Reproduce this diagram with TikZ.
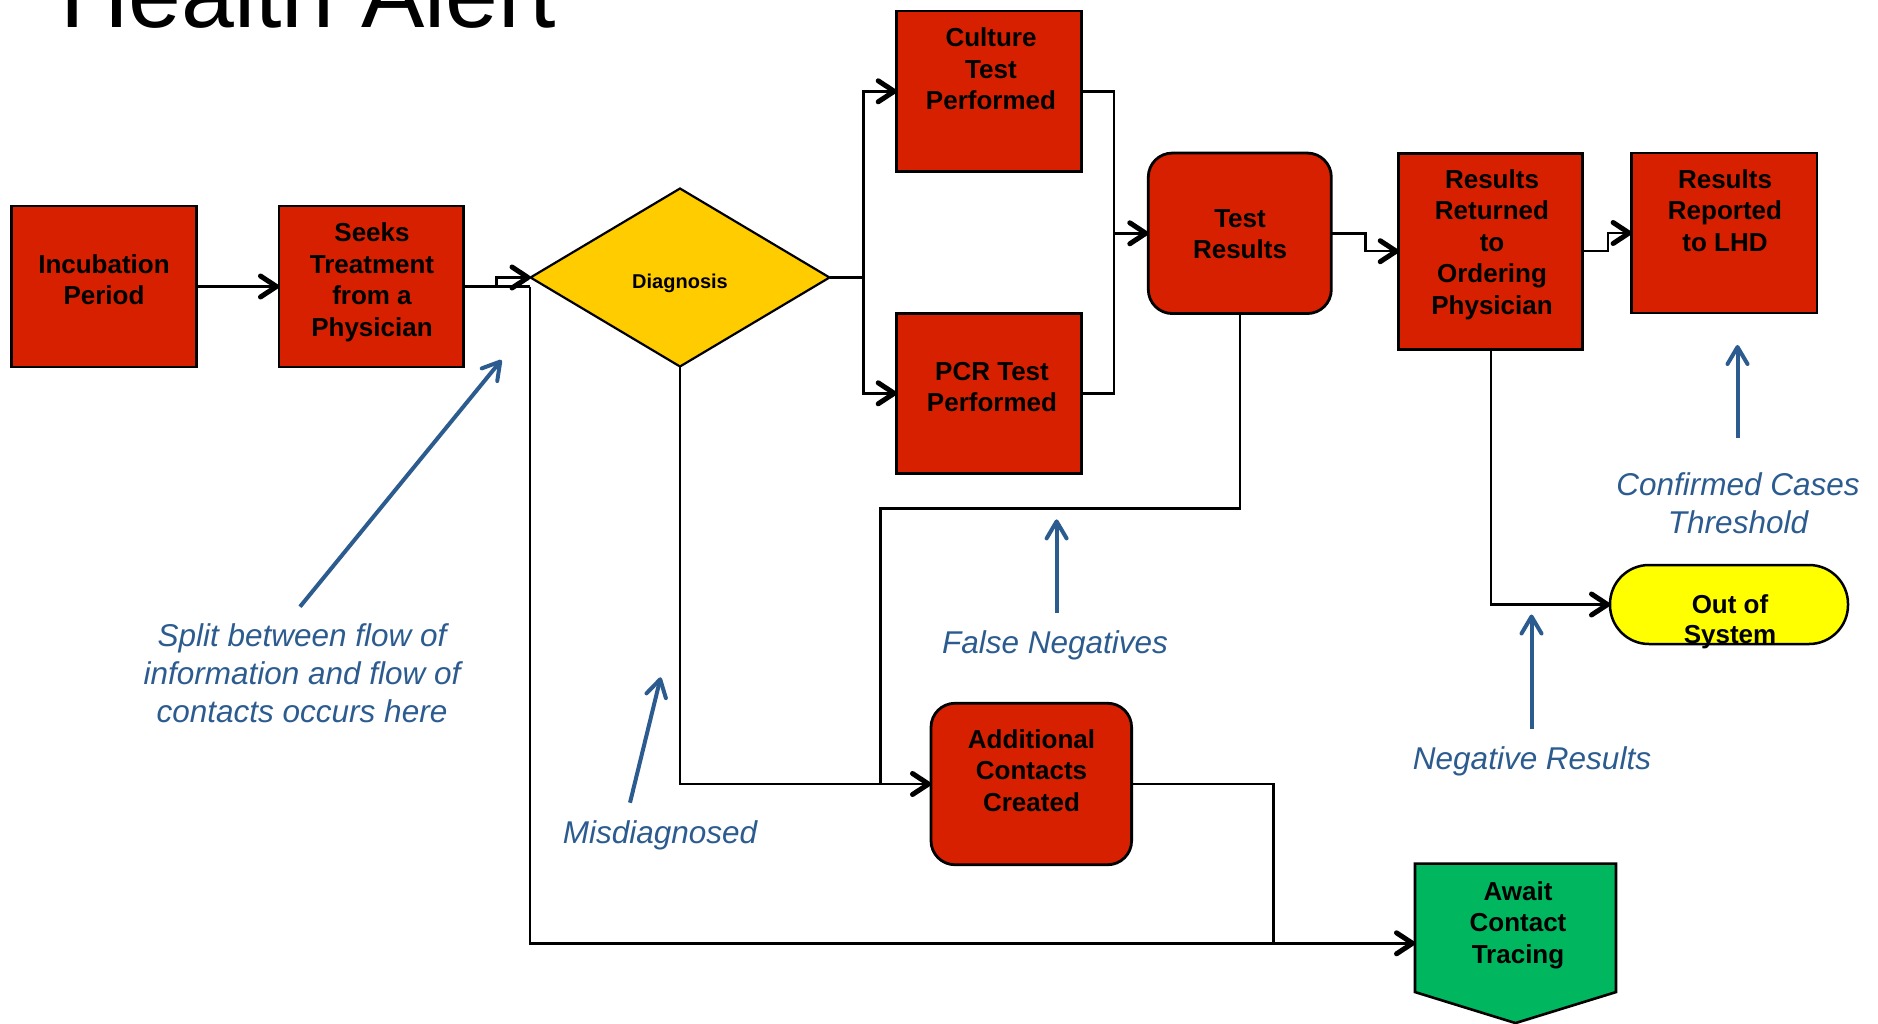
\documentclass[tikz,border=0pt]{standalone}
\usepackage{fontspec}
\setmainfont{Liberation Sans}
\usetikzlibrary{arrows.meta,shapes.geometric,calc}
\definecolor{boxred}{RGB}{214,32,0}
\definecolor{diayellow}{RGB}{255,204,0}
\definecolor{oosyellow}{RGB}{255,255,0}
\definecolor{awgreen}{RGB}{0,183,96}
\definecolor{noteblue}{RGB}{44,92,143}
\tikzset{
  redbox/.style={draw=black, line width=2.8pt, fill=boxred, inner sep=0pt, outer sep=0pt},
  roundbox/.style={redbox, rounded corners=24pt},
  boxtxt/.style={font=\fontsize{26}{31.5}\selectfont\bfseries, align=center, inner sep=0pt, anchor=north},
  link/.style={draw=black, line width=2.4pt},
  flow/.style={link, -{Straight Barb[length=16pt,width=21pt,line width=5pt,round]}},
  note/.style={font=\fontsize{31.5}{38}\selectfont\itshape, text=noteblue, align=center, inner sep=0pt},
  notearrow/.style={draw=noteblue, line width=4pt, -{Straight Barb[length=17pt,width=20pt,line width=4pt,round]}}
}
\begin{document}
\begin{tikzpicture}[x=1pt,y=-1pt]
\useasboundingbox (0,0) rectangle (1878,1023);
\fill[white] (0,0) rectangle (1878,1023);

% title (cut off at the top, as in the reference)
\node[anchor=base west, inner sep=0pt, font=\fontsize{95}{100}\selectfont] (title) at (60,27) {Health Alert};

% shapes
\node[redbox, minimum width=185pt, minimum height=161pt] (inc) at (103.8,286.5) {};
\node[redbox, minimum width=184.4pt, minimum height=161pt] (seek) at (371.2,286.5) {};
\node[diamond, draw=black, line width=2.2pt, fill=diayellow, minimum width=299pt, minimum height=178pt, inner sep=0pt, outer sep=0pt] (diag) at (680,277.5) {};
\node[redbox, minimum width=185pt, minimum height=160.7pt] (cult) at (989.2,91.3) {};
\node[redbox, minimum width=185pt, minimum height=160pt] (pcr) at (989.2,393.3) {};
\node[roundbox, minimum width=183pt, minimum height=160.5pt] (tres) at (1239.8,233.3) {};
\node[redbox, minimum width=184pt, minimum height=196pt] (rr) at (1490.7,251.2) {};
\node[redbox, minimum width=185.4pt, minimum height=160pt] (rep) at (1724.3,233) {};
\node[draw=black, line width=2.5pt, fill=oosyellow, rounded corners=39pt, minimum width=238pt, minimum height=79pt, inner sep=0pt, outer sep=0pt] (oos) at (1729,604.5) {};
\node[roundbox, minimum width=200.6pt, minimum height=161.5pt] (addl) at (1031.3,784) {};
\node[inner sep=0pt, outer sep=0pt, minimum width=201pt, minimum height=159.5pt] (await) at (1515.5,943.3) {};
\draw[line width=2.6pt, fill=awgreen, line join=miter] (await.north west) -- (await.north east)
  -- ($(await.south east)+(0,-31)$) -- (await.south) -- ($(await.south west)+(0,-31)$) -- cycle;

% texts of the shapes
\node[boxtxt] (incT) at (104,254.3) {Incubation\\Period};
\node[boxtxt] (seekT) at (372,222.7) {Seeks\\Treatment\\from a\\Physician};
\node[anchor=base, inner sep=0pt, font=\fontsize{20}{24}\selectfont\bfseries] (diagT) at (680,288.3) {Diagnosis};
\node[boxtxt] (cultT) at (991,27.7) {Culture\\Test\\Performed};
\node[boxtxt] (pcrT) at (992,362) {PCR Test\\Performed};
\node[boxtxt] (tresT) at (1240,209) {Test\\Results};
\node[boxtxt] (rrT) at (1492,169) {Results\\Returned\\to\\Ordering\\Physician};
\node[boxtxt] (repT) at (1725,169) {Results\\Reported\\to LHD};
\node[boxtxt] (addlT) at (1031.5,729) {Additional\\Contacts\\Created};
\node[boxtxt] (awaitT) at (1518,881) {Await\\Contact\\Tracing};
\node[boxtxt, font=\fontsize{26}{30}\selectfont\bfseries] (oosT) at (1730,594) {Out of\\System};

% connectors
\coordinate (split) at (530,286.5);
\coordinate (merge) at (1114,233.3);
\coordinate (fn) at (880.6,508.5);
\coordinate (join) at (1273.5,943.3);
\draw[flow] (inc.east) -- (seek.west);
\draw[link] (seek.east) -- (split);
\draw[flow] (seek.east) -- ++(33,0) |- (diag.west);
\draw[flow] (split) |- (await.west);
\draw[flow] (diag.east) -- ++(34,0) |- (cult.west);
\draw[flow] (diag.east) -- ++(34,0) |- (pcr.west);
\draw[link] (cult.east) -| (merge);
\draw[link] (pcr.east) -| (merge);
\draw[flow] (merge) -- (tres.west);
\draw[flow] (tres.east) -- ++(34,0) |- (rr.west);
\draw[flow] (rr.east) -- ++(25,0) |- (rep.west);
\draw[flow] (rr.south) |- (oos.west);
\draw[link] (tres.south) |- (fn) -- (fn |- addl.west);
\draw[flow] (diag.south) |- (addl.west);
\draw[link] (addl.east) -| (join);

% annotations
\node[note, anchor=north] (splitN) at (302,623.7) {Split between flow of\\information and flow of\\contacts occurs here};
\node[note, anchor=base] (misN) at (660,843) {Misdiagnosed};
\node[note, anchor=base] (fnN) at (1055,653) {False Negatives};
\node[note, anchor=base] (negN) at (1532,769.5) {Negative Results};
\node[note, anchor=north] (confN) at (1738,472) {Confirmed Cases\\Threshold};
\coordinate (splitA) at (300,606.7);
\coordinate (splitB) at (501.5,360);
\coordinate (misA) at (630,802.7);
\coordinate (misB) at (660.7,677.3);
\coordinate (fnA) at (1056.6,612.6);
\coordinate (fnB) at (1056.6,519.4);
\coordinate (negA) at (1531.5,729);
\coordinate (negB) at (1531.5,614.5);
\coordinate (confA) at (1737.5,437.5);
\coordinate (confB) at (1737.5,345);
\draw[notearrow] (splitA) -- (splitB);
\draw[notearrow] (misA) -- (misB);
\draw[notearrow] (fnA) -- (fnB);
\draw[notearrow] (negA) -- (negB);
\draw[notearrow] (confA) -- (confB);
\end{tikzpicture}
\end{document}
